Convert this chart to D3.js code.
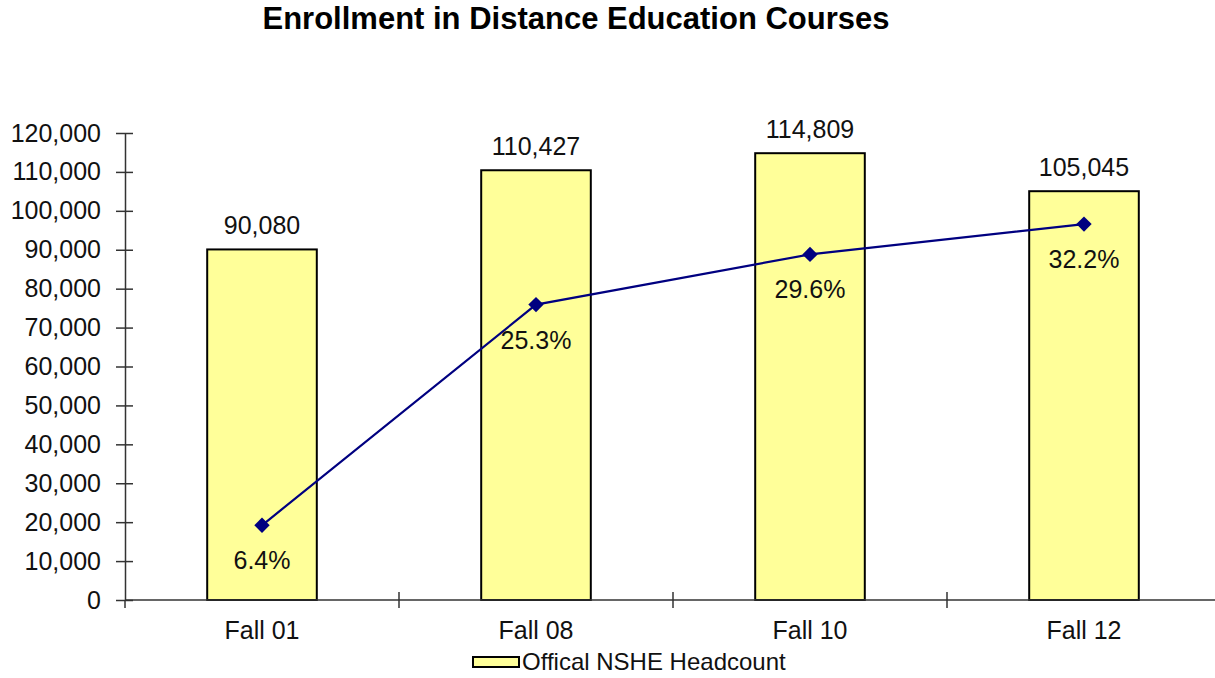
<!DOCTYPE html>
<html>
<head>
<meta charset="utf-8">
<script src="https://cdn.jsdelivr.net/npm/d3@7"></script>
<style>
  body { margin: 0; background: #fff; }
  svg { font-family: "Liberation Sans", Arial, sans-serif; }
</style>
</head>
<body>
<svg id="chart" width="1215" height="678"></svg>
<script>
// chart data
const categories = ["Fall 01", "Fall 08", "Fall 10", "Fall 12"];
const headcount = [90080, 110427, 114809, 105045];
const pctDistance = [6.4, 25.3, 29.6, 32.2];
const yTicks = [0, 10000, 20000, 30000, 40000, 50000, 60000, 70000, 80000, 90000, 100000, 110000, 120000];
const legendLabel = "Offical NSHE Headcount";
const title = "Enrollment in Distance Education Courses";

const svg = d3.select("#chart");
const margin = { left: 125, top: 133, bottom: 78 };
const plotW = 274 * categories.length;
const plotBottom = 678 - margin.bottom;
const labelSize = 25;

const x = d3.scaleBand()
  .domain(categories)
  .range([margin.left, margin.left + plotW])
  .paddingInner(0.6).paddingOuter(0.3);

const y = d3.scaleLinear().domain([0, 120000]).range([plotBottom, margin.top]);
// hidden secondary axis for the percent line
const yPct = d3.scaleLinear().domain([0, 40]).range([plotBottom, margin.top]);

// title
svg.append("text")
  .attr("x", 576).attr("y", 29)
  .attr("text-anchor", "middle")
  .attr("font-size", 31).attr("font-weight", "bold")
  .text(title);

// bars
svg.append("g").selectAll("rect")
  .data(categories)
  .enter().append("rect")
  .attr("x", d => x(d))
  .attr("y", (d, i) => y(headcount[i]))
  .attr("width", x.bandwidth())
  .attr("height", (d, i) => plotBottom - y(headcount[i]))
  .attr("fill", "#FFFF99")
  .attr("stroke", "#000")
  .attr("stroke-width", 2);

// bar value labels
svg.append("g").selectAll("text")
  .data(categories)
  .enter().append("text")
  .attr("x", d => x(d) + x.bandwidth() / 2)
  .attr("y", (d, i) => y(headcount[i]) - 15)
  .attr("text-anchor", "middle")
  .attr("font-size", labelSize)
  .attr("fill", "#111")
  .text((d, i) => d3.format(",")(headcount[i]));

// y axis
const yAxis = d3.axisLeft(y)
  .tickValues(yTicks)
  .tickFormat(d3.format(","))
  .tickSizeInner(9).tickSizeOuter(0).tickPadding(15);

const gy = svg.append("g")
  .attr("transform", "translate(" + margin.left + ",0)")
  .call(yAxis);
gy.select(".domain").attr("stroke", "#333").attr("stroke-width", 1.5);
gy.selectAll(".tick line").attr("stroke", "#333").attr("stroke-width", 1.5)
  .attr("x1", -9).attr("x2", 8);
gy.selectAll(".tick text").attr("font-size", labelSize).attr("fill", "#111")
  .attr("font-family", "Liberation Sans, Arial, sans-serif");

// x axis, ticks between categories
const bounds = d3.range(categories.length + 1).map(i => margin.left + i * 274);
const gx = svg.append("g");
gx.append("line")
  .attr("x1", margin.left).attr("x2", margin.left + plotW)
  .attr("y1", plotBottom).attr("y2", plotBottom)
  .attr("stroke", "#333").attr("stroke-width", 1.5);
gx.selectAll("line.tk")
  .data(bounds)
  .enter().append("line")
  .attr("class", "tk")
  .attr("x1", d => d).attr("x2", d => d)
  .attr("y1", (d, i) => i === 0 ? plotBottom : plotBottom - 8)
  .attr("y2", plotBottom + 8)
  .attr("stroke", "#333").attr("stroke-width", 1.5);
gx.selectAll("text")
  .data(categories)
  .enter().append("text")
  .attr("x", d => x(d) + x.bandwidth() / 2)
  .attr("y", plotBottom + 39)
  .attr("text-anchor", "middle")
  .attr("font-size", labelSize)
  .attr("fill", "#111")
  .text(d => d);

// percent line
const line = d3.line()
  .x((d, i) => x(categories[i]) + x.bandwidth() / 2)
  .y(d => yPct(d));

svg.append("path")
  .attr("d", line(pctDistance))
  .attr("fill", "none")
  .attr("stroke", "#000080")
  .attr("stroke-width", 2.2);

svg.append("g").selectAll("path")
  .data(pctDistance)
  .enter().append("path")
  .attr("d", d3.symbol().type(d3.symbolDiamond2).size(150))
  .attr("transform", (d, i) => "translate(" + (x(categories[i]) + x.bandwidth() / 2) + "," + yPct(d) + ")")
  .attr("fill", "#000080");

svg.append("g").selectAll("text")
  .data(pctDistance)
  .enter().append("text")
  .attr("x", (d, i) => x(categories[i]) + x.bandwidth() / 2)
  .attr("y", d => yPct(d) + 44)
  .attr("text-anchor", "middle")
  .attr("font-size", labelSize)
  .attr("fill", "#111")
  .text(d => d.toFixed(1) + "%");

// legend
const lg = svg.append("g");
lg.append("rect")
  .attr("x", 473).attr("y", 657)
  .attr("width", 46).attr("height", 10)
  .attr("fill", "#FFFF99").attr("stroke", "#000").attr("stroke-width", 2);
lg.append("text")
  .attr("x", 522).attr("y", 670)
  .attr("font-size", 24)
  .attr("fill", "#111")
  .text(legendLabel);
</script>
</body>
</html>
